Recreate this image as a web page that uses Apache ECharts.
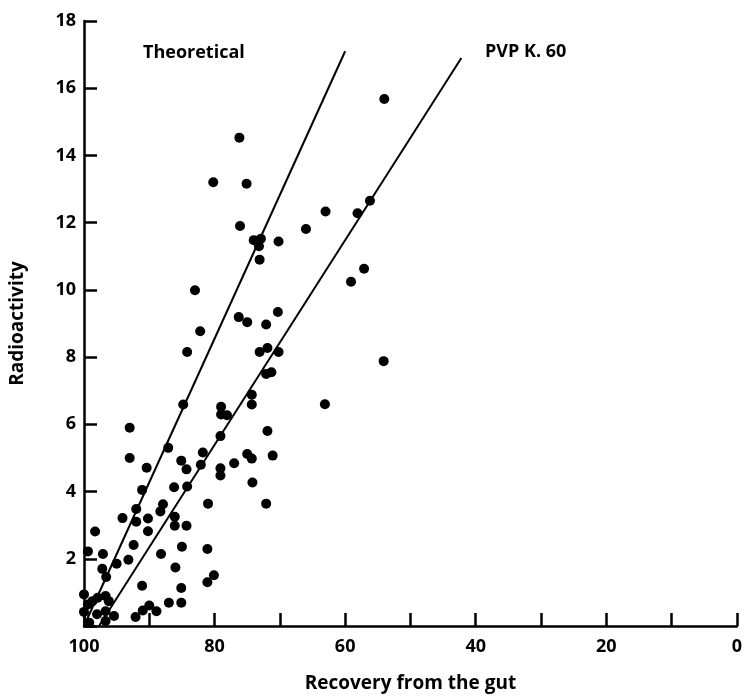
<!DOCTYPE html>
<html>
<head>
<meta charset="utf-8">
<script src="https://cdn.jsdelivr.net/npm/echarts@6/dist/echarts.min.js"></script>
<style>
  html, body { margin: 0; padding: 0; background: #fff; }
  #chart { width: 745px; height: 698px; }
</style>
</head>
<body>
<div id="chart"></div>
<script>
// recovery from the gut (%) and radioactivity for each animal
const recovery = [
  54.0, 76.2, 80.2, 75.1, 76.1, 74.0, 72.9, 73.2, 73.1, 70.2,
  66.0, 63.0, 58.1, 56.2, 59.1, 57.1, 83.0, 82.2, 76.3, 75.0,
  72.1, 70.3, 84.2, 73.1, 71.9, 70.2, 54.1, 72.1, 71.3, 74.3,
  74.3, 63.1, 84.8, 79.0, 79.0, 78.1, 93.0, 71.9, 79.1, 87.1,
  81.8, 93.0, 75.0, 74.3, 71.1, 85.1, 84.3, 82.1, 77.0, 90.4,
  79.1, 79.1, 74.2, 86.2, 84.2, 91.1, 81.0, 72.1, 87.9, 88.3,
  92.0, 94.1, 90.2, 86.1, 92.0, 86.1, 84.3, 90.2, 98.3, 92.4,
  85.0, 81.1, 99.4, 97.1, 88.2, 93.2, 95.0, 97.2, 86.0, 96.6,
  80.1, 81.1, 91.1, 85.1, 100.0, 87.0, 85.1, 90.0, 88.9, 91.0,
  92.1, 100.0, 99.2, 99.4, 98.7, 97.9, 96.7, 96.2, 96.7, 95.4,
  96.7, 98.0
];
const radioactivity = [
  15.68, 14.53, 13.2, 13.16, 11.9, 11.48, 11.52, 11.3, 10.9, 11.44,
  11.81, 12.33, 12.28, 12.65, 10.24, 10.63, 9.99, 8.77, 9.19, 9.04,
  8.97, 9.34, 8.15, 8.15, 8.27, 8.15, 7.88, 7.5, 7.55, 6.88,
  6.59, 6.6, 6.59, 6.52, 6.29, 6.27, 5.9, 5.8, 5.65, 5.3,
  5.16, 5.0, 5.12, 4.98, 5.07, 4.92, 4.66, 4.8, 4.84, 4.71,
  4.69, 4.48, 4.27, 4.13, 4.15, 4.05, 3.64, 3.64, 3.62, 3.41,
  3.48, 3.21, 3.2, 3.25, 3.1, 2.98, 2.98, 2.82, 2.81, 2.41,
  2.36, 2.29, 2.22, 2.14, 2.14, 1.97, 1.85, 1.7, 1.74, 1.46,
  1.51, 1.3, 1.2, 1.13, 0.94, 0.69, 0.69, 0.61, 0.44, 0.46,
  0.27, 0.42, 0.1, 0.64, 0.74, 0.84, 0.89, 0.74, 0.44, 0.3,
  0.15, 0.35
];

// fitted lines (recovery, radioactivity) at each end
const theoreticalX = [100, 60];
const theoreticalY = [0, 17.1];
const pvpX = [97.7, 42.2];
const pvpY = [0, 16.9];

const xLabels = [100, 80, 60, 40, 20, 0];
const yLabels = [2, 4, 6, 8, 10, 12, 14, 16, 18];

const points = recovery.map((r, i) => [r, radioactivity[i]]);
const theoretical = theoreticalX.map((x, i) => [x, theoreticalY[i]]);
const pvp = pvpX.map((x, i) => [x, pvpY[i]]);

const font = '"Open Sans", Lato, sans-serif';
const chart = echarts.init(document.getElementById('chart'), null, { renderer: 'canvas' });

chart.setOption({
  animation: false,
  backgroundColor: '#fff',
  grid: { left: 78, right: 5, top: 21, bottom: 70, containLabel: false },
  xAxis: {
    type: 'value',
    inverse: true,
    min: 0,
    max: 100,
    interval: 10,
    name: 'Recovery from the gut',
    nameLocation: 'middle',
    nameGap: 48,
    nameTextStyle: { color: '#000', fontFamily: font, fontWeight: 'bold', fontSize: 19 },
    axisLine: { onZero: false, lineStyle: { color: '#000', width: 2.5 } },
    axisTick: { inside: true, length: 13, lineStyle: { color: '#000', width: 2.5 } },
    axisLabel: {
      color: '#000', fontFamily: font, fontWeight: 'bold', fontSize: 18, margin: 12,
      showMinLabel: true, showMaxLabel: true,
      formatter: (v) => (xLabels.includes(v) ? String(v) : '')
    },
    splitLine: { show: false }
  },
  yAxis: {
    type: 'value',
    position: 'left',
    min: 0,
    max: 18,
    interval: 2,
    name: 'Radioactivity',
    nameLocation: 'middle',
    nameGap: 57,
    nameRotate: 90,
    nameTextStyle: { color: '#000', fontFamily: font, fontWeight: 'bold', fontSize: 19 },
    axisLine: { onZero: false, lineStyle: { color: '#000', width: 2.5 } },
    axisTick: { inside: true, length: 13, lineStyle: { color: '#000', width: 2.5 } },
    axisLabel: {
      color: '#000', fontFamily: font, fontWeight: 'bold', fontSize: 18, margin: 8,
      formatter: (v) => (yLabels.includes(v) ? String(v) : '')
    },
    splitLine: { show: false }
  },
  series: [
    {
      name: 'Theoretical',
      type: 'line',
      data: theoretical,
      symbol: 'none',
      lineStyle: { color: '#000', width: 2 },
      z: 2
    },
    {
      name: 'PVP K.60',
      type: 'line',
      data: pvp,
      symbol: 'none',
      lineStyle: { color: '#000', width: 2 },
      z: 2
    },
    {
      name: 'animals',
      type: 'scatter',
      data: points,
      symbolSize: 10,
      itemStyle: { color: '#000', opacity: 1 },
      z: 3
    }
  ],
  graphic: [
    {
      type: 'text', left: 143, top: 44,
      style: { text: 'Theoretical', fill: '#000', font: 'bold 18px ' + font }
    },
    {
      type: 'text', left: 485, top: 43,
      style: { text: 'PVP K. 60', fill: '#000', font: 'bold 18px ' + font }
    }
  ]
});

window.addEventListener('resize', () => chart.resize());
</script>
</body>
</html>
